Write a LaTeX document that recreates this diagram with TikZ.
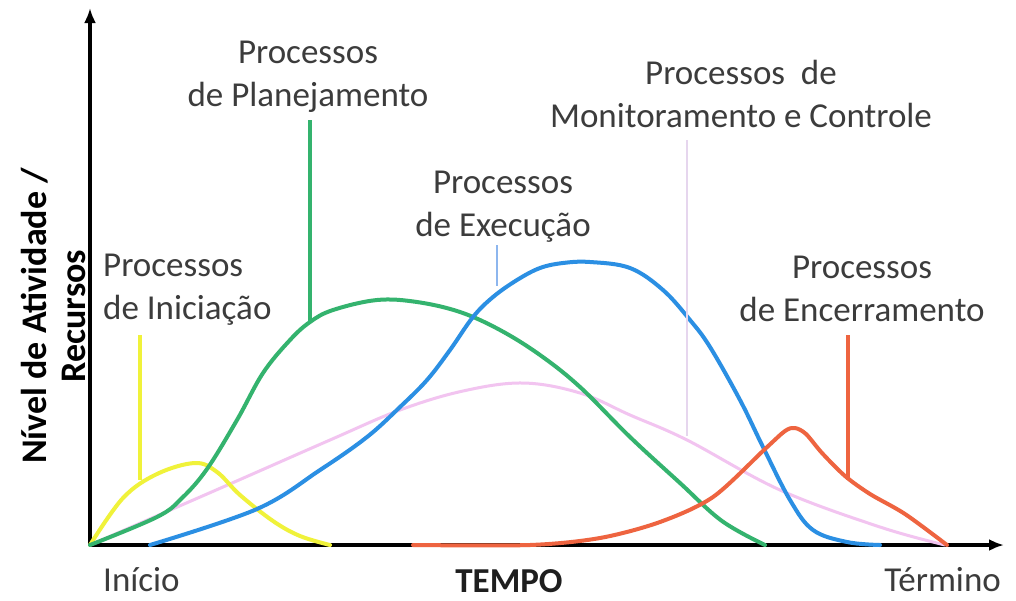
\documentclass[tikz,border=0pt]{standalone}
\usepackage{fontspec}
\setmainfont{Carlito}
\usetikzlibrary{arrows.meta}
\definecolor{txt}{HTML}{3C3C3C}
\definecolor{cyel}{HTML}{F0F23A}
\definecolor{cgrn}{HTML}{34B36E}
\definecolor{cblu}{HTML}{2B8FE3}
\definecolor{cpnk}{HTML}{F2C4F0}
\definecolor{cpnkl}{HTML}{E6D6EE}
\definecolor{cora}{HTML}{EE6440}
\definecolor{cblul}{HTML}{8DB6EE}
\tikzset{
  lbl/.style={font=\fontsize{35}{43}\selectfont, text=txt, inner sep=0pt, anchor=base},
  axislbl/.style={font=\fontsize{36}{39}\selectfont\bfseries, text=black, inner sep=0pt},
  curve/.style={line width=4pt, line cap=round, line join=round},
  leader/.style={line width=3.2pt},
  axisline/.style={line width=3.8pt, -{Latex[length=15pt,width=12pt]}}
}
\begin{document}
\begin{tikzpicture}[x=1pt,y=-1pt]
\useasboundingbox (0,0) rectangle (1016,600);
\fill[white] (0,0) rectangle (1016,600);

% axes
\coordinate (O) at (90,545);
\coordinate (Ytop) at (90,8);
\coordinate (Xend) at (1004,545);
\draw[axisline] (O) -- (Ytop);
\draw[axisline] (O) -- (Xend);

% curves
\draw[curve, cpnk, line width=3pt] plot[smooth, tension=0.6] coordinates {
 (90,545) (223,487) (330,440) (400,410) (463,391) (523,383) (580,393) (630,415)
 (687,440) (780,490) (880,527) (945,545)};
\draw[curve, cyel] plot[smooth, tension=0.6] coordinates {
 (90,545) (123,498) (157,474) (195,463) (217,472) (240,495) (273,521) (300,536) (330,545)};
\draw[curve, cgrn] plot[smooth, tension=0.6] coordinates {
 (90,545) (157,517) (182,498) (207,469) (237,420) (263,373) (290,340) (310,322) (333,310)
 (377,300) (417,302) (460,312) (500,330) (540,355) (580,387) (630,437) (680,483) (722,521) (765,545)};
\draw[curve, cblu] plot[smooth, tension=0.6] coordinates {
 (150,545) (257,509) (320,470) (367,437) (400,407) (427,380) (450,350) (473,317)
 (493,297) (517,280) (540,268) (563,263) (590,262) (630,268) (663,290) (690,320) (710,347)
 (740,400) (763,447) (790,500) (813,530) (847,542) (880,545)};
\draw[curve, cora] plot[smooth, tension=0.5] coordinates {
 (413,545) (530,545) (600,538) (660,522) (713,497) (765,449) (785,431) (795,428)
 (806,434) (822,453) (845,476) (870,494) (905,514) (947,545)};

% labels
\node[lbl, align=center] (plan) at (308,106) {Processos\\de Planejamento};
\node[lbl, align=center] (moni) at (741,127) {Processos\ \ de\\Monitoramento e Controle};
\node[lbl, align=center] (exec) at (503,236) {Processos\\de Execução};
\node[lbl, align=left, anchor=base west] (inic) at (103,319) {Processos\\de Iniciação};
\node[lbl, align=center] (ence) at (862,321) {Processos\\de Encerramento};
\node[lbl, anchor=base west] (inicio) at (103,591) {Início};
\node[lbl, anchor=base east] (termino) at (1001,591) {Término};
\node[axislbl, font=\fontsize{35}{39}\selectfont\bfseries, anchor=base, text=txt!50!black] (tempo) at (509,592) {TEMPO};
\node[axislbl, rotate=90, align=center] (ylab) at (53,316) {Nível de Atividade /\\Recursos};

% leader lines
\coordinate (yt) at (140,335); \coordinate (yb) at (140,480);
\coordinate (gt) at (310,120); \coordinate (gb) at (310,322);
\coordinate (bt) at (497,245); \coordinate (bb) at (497,286);
\coordinate (pt) at (687,140); \coordinate (pb) at (687,436);
\coordinate (ot) at (848,335); \coordinate (ob) at (848,480);
\draw[leader, cyel] (yt) -- (yb);
\draw[leader, cgrn] (gt) -- (gb);
\draw[leader, cblul, line width=2.4pt] (bt) -- (bb);
\draw[leader, cpnkl, line width=2.2pt] (pt) -- (pb);
\draw[leader, cora] (ot) -- (ob);
\end{tikzpicture}
\end{document}
